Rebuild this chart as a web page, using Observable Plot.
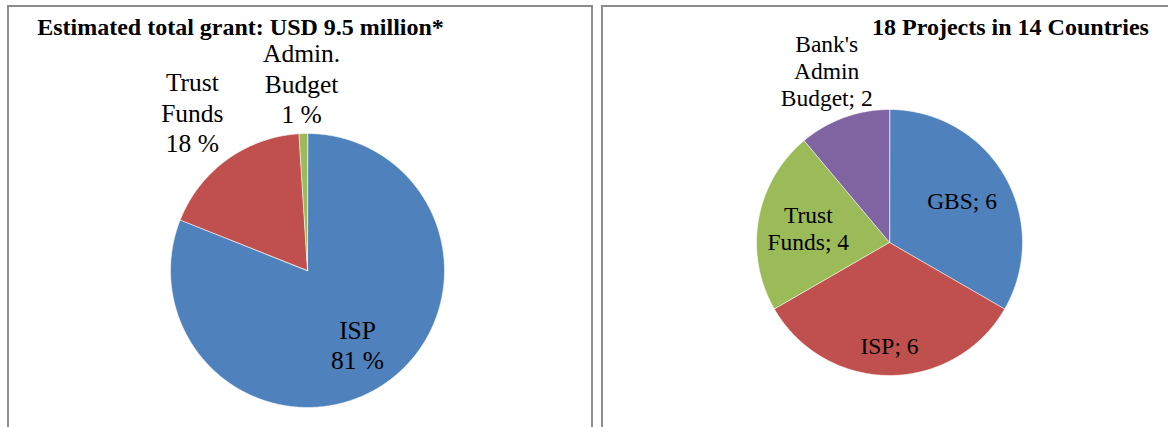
<!DOCTYPE html>
<html><head><meta charset="utf-8">
<script src="https://cdn.jsdelivr.net/npm/d3@7"></script>
<script src="https://cdn.jsdelivr.net/npm/@observablehq/plot@0.6"></script>
<style>
body{margin:0;background:#fff;}
#wrap{position:relative;width:1168px;height:427px;overflow:hidden;background:#fff;}
.box{position:absolute;box-sizing:border-box;border:2px solid #8c8c8c;border-bottom:none;height:440px;}
.plot{position:absolute;}
</style></head>
<body>
<div id="wrap">
  <div class="box" style="left:7px;top:5px;width:586px;"></div>
  <div class="box" style="left:601px;top:5px;width:600px;"></div>
  <div class="plot" id="left" style="left:9px;top:7px;"></div>
  <div class="plot" id="right" style="left:603px;top:7px;"></div>
</div>
<script>
// ---- Data ----
const grantTitle = "Estimated total grant: USD 9.5 million*";
const grantCategories = ["ISP", "Trust Funds", "Admin. Budget"];
const grantLabelLines = [["ISP"], ["Trust", "Funds"], ["Admin.", "Budget"]];
const grantShares = [81, 18, 1];

const projectTitle = "18 Projects in 14 Countries";
const projectCategories = ["GBS", "ISP", "Trust Funds", "Bank's Admin Budget"];
const projectLabelLines = [["GBS"], ["ISP"], ["Trust", "Funds"], ["Bank's", "Admin", "Budget"]];
const projectCounts = [6, 6, 4, 2];

// ---- Styles ----
const palette = ["#4F81BD", "#C0504D", "#9BBB59", "#8064A2"];
const serif = "'Liberation Serif', 'Times New Roman', serif";

function pieChart(o) {
  const total = d3.sum(o.values);
  let acc = 0;
  const slices = o.values.map((v, i) => {
    const a0 = acc / total * 2 * Math.PI; acc += v;
    const a1 = acc / total * 2 * Math.PI;
    return {i, a0, a1, mid: (a0 + a1) / 2, label: o.labelText(i)};
  });
  const sliceMarks = slices.map(s => {
    const n = Math.max(2, Math.ceil((s.a1 - s.a0) / (Math.PI / 360)));
    const pts = [[0, 0]];
    for (let k = 0; k <= n; k++) {
      const a = s.a0 + (s.a1 - s.a0) * k / n;
      pts.push([Math.sin(a), Math.cos(a)]);
    }
    return Plot.line(pts, {x: d => d[0], y: d => d[1], fill: o.colors[s.i], stroke: "#ffffff", strokeWidth: 0.6, curve: "linear-closed"});
  });
  const W = o.width, H = o.height, r = o.r;
  return Plot.plot({
    width: W, height: H,
    margin: 0,
    style: {fontFamily: serif, background: "transparent", overflow: "visible"},
    x: {axis: null, domain: [-o.cx / r, (W - o.cx) / r], range: [0, W]},
    y: {axis: null, domain: [-(H - o.cy) / r, o.cy / r], range: [H, 0]},
    marks: [
      ...sliceMarks,
      Plot.text(slices, {
        x: s => Math.sin(s.mid) * o.labelRadius[s.i],
        y: s => Math.cos(s.mid) * o.labelRadius[s.i],
        text: "label", fontSize: o.fontSize, lineHeight: o.lineHeight,
        lineAnchor: "middle", fill: "#000", fontFamily: serif
      }),
      Plot.text([o.title], {
        frameAnchor: "top-left", dx: o.titleX, dy: o.titleY, text: d => d,
        textAnchor: "middle", lineAnchor: "middle", fontWeight: "bold", fontSize: 24, fill: "#000", fontFamily: serif
      })
    ]
  });
}

document.getElementById("left").append(pieChart({
  values: grantShares, colors: palette,
  labelText: i => [...grantLabelLines[i], grantShares[i] + " %"].join("\n"),
  width: 582, height: 420, cx: 298, cy: 263, r: 137,
  labelRadius: [0.65, 1.43, 1.37],
  fontSize: 25.5, lineHeight: 1.19,
  title: grantTitle, titleX: 231, titleY: 20
}));

document.getElementById("right").append(pieChart({
  values: projectCounts, colors: palette,
  labelText: i => { const l = projectLabelLines[i].slice(); l[l.length - 1] += "; " + projectCounts[i]; return l.join("\n"); },
  width: 565, height: 420, cx: 286, cy: 235, r: 133,
  labelRadius: [0.63, 0.77, 0.62, 1.38],
  fontSize: 23.5, lineHeight: 1.15,
  title: projectTitle, titleX: 407, titleY: 20
}));
</script>
</body></html>
